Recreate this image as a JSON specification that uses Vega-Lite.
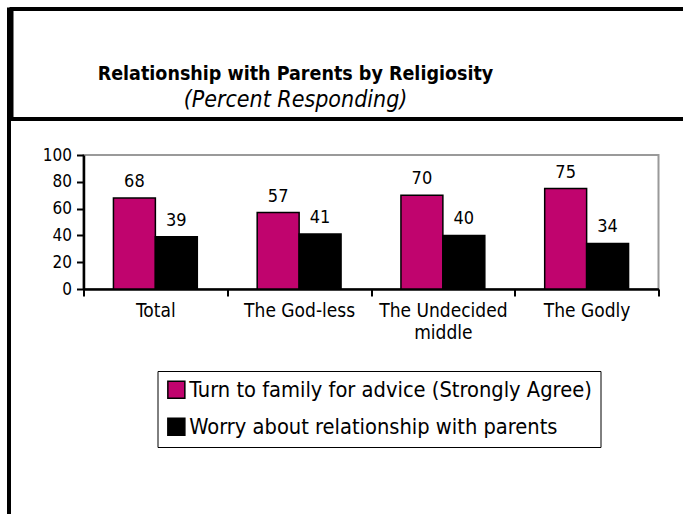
{
  "$schema": "https://vega.github.io/schema/vega-lite/v6.json",
  "padding": {"left": 6.5, "top": 7, "right": -19, "bottom": -16},
  "background": "white",
  "config": {"font": "DejaVu Sans Condensed, Liberation Sans, sans-serif", "view": {"stroke": null}},
  "spacing": -4,
  "hconcat": [
    {
      "width": 1,
      "height": 520,
      "view": {"stroke": "black", "strokeWidth": 3},
      "data": {"values": [{}]},
      "mark": {"type": "point", "opacity": 0, "size": 0},
      "encoding": {}
    },
    {
      "spacing": 24,
      "vconcat": [
        {
          "width": 690,
          "height": 110,
          "view": {"stroke": "black", "strokeWidth": 4},
          "data": {"values": [
            {"k": "a", "t": "Relationship with Parents by Religiosity"},
            {"k": "b", "t": "(Percent Responding)"}
          ]},
          "encoding": {"text": {"field": "t"}},
          "layer": [
            {"transform": [{"filter": "datum.k == 'a'"}], "mark": {"type": "text", "fontSize": 19.5, "fontWeight": "bold", "dx": -61, "dy": 10, "baseline": "middle", "color": "black"}},
            {"transform": [{"filter": "datum.k == 'b'"}], "mark": {"type": "text", "fontSize": 23, "fontStyle": "italic", "dx": -61, "dy": 36, "baseline": "middle", "color": "black"}}
          ]
        },
        {
          "spacing": 28,
          "hconcat": [
            {
              "width": 1,
              "height": 1,
              "data": {"values": [{}]},
              "mark": {"type": "point", "opacity": 0, "size": 0},
              "encoding": {}
            },
            {
              "width": 575,
              "height": 134,
              "view": {"stroke": "#9a9a9a", "strokeWidth": 2},
              "data": {"values": [
                {"group": "Total", "series": "Turn to family for advice (Strongly Agree)", "value": 68},
                {"group": "Total", "series": "Worry about relationship with parents", "value": 39},
                {"group": "The God-less", "series": "Turn to family for advice (Strongly Agree)", "value": 57},
                {"group": "The God-less", "series": "Worry about relationship with parents", "value": 41},
                {"group": "The Undecided middle", "series": "Turn to family for advice (Strongly Agree)", "value": 70},
                {"group": "The Undecided middle", "series": "Worry about relationship with parents", "value": 40},
                {"group": "The Godly", "series": "Turn to family for advice (Strongly Agree)", "value": 75},
                {"group": "The Godly", "series": "Worry about relationship with parents", "value": 34}
              ]},
              "encoding": {
                "x": {
                  "field": "group", "type": "nominal", "sort": null,
                  "scale": {"paddingInner": 0, "paddingOuter": 0},
                  "axis": {
                    "title": null, "labelAngle": 0, "labelFontSize": 19, "labelColor": "black",
                    "tickBand": "extent", "tickSize": 7, "tickColor": "black", "tickWidth": 2,
                    "domainColor": "black", "domainWidth": 2.5, "labelPadding": 5, "labelLineHeight": 22,
                    "labelExpr": "datum.value == 'The Undecided middle' ? ['The Undecided', 'middle'] : datum.value"
                  }
                },
                "xOffset": {"field": "series", "type": "nominal", "scale": {"paddingInner": 0, "paddingOuter": 0.714}},
                "y": {
                  "field": "value", "type": "quantitative",
                  "scale": {"domain": [0, 100]},
                  "axis": {
                    "title": null,
                    "values": [0, 20, 40, 60, 80, 100], "labelFontSize": 17, "labelColor": "black",
                    "tickSize": 7, "tickColor": "black", "tickWidth": 2, "domainColor": "black", "domainWidth": 2.5,
                    "labelPadding": 5, "grid": false
                  }
                }
              },
              "layer": [
                {
                  "mark": {"type": "bar", "stroke": "black", "strokeWidth": 1.5},
                  "encoding": {
                    "color": {
                      "field": "series", "type": "nominal",
                      "scale": {"domain": ["Turn to family for advice (Strongly Agree)", "Worry about relationship with parents"], "range": ["#C0046E", "#000000"]},
                      "legend": {
                        "title": null, "orient": "none", "legendX": 149, "legendY": 362,
                        "strokeColor": "black", "padding": 8, "labelFontSize": 21.7, "labelColor": "black",
                        "symbolType": "square", "symbolSize": 289, "rowPadding": 13,
                        "symbolStrokeColor": "black", "symbolStrokeWidth": 1.5, "labelOffset": 2,
                        "direction": "vertical", "labelLimit": 500
                      }
                    }
                  }
                },
                {
                  "mark": {"type": "text", "dy": -11, "baseline": "alphabetic", "fontSize": 18, "color": "black"},
                  "encoding": {"text": {"field": "value"}}
                }
              ]
            }
          ]
        }
      ]
    }
  ]
}
